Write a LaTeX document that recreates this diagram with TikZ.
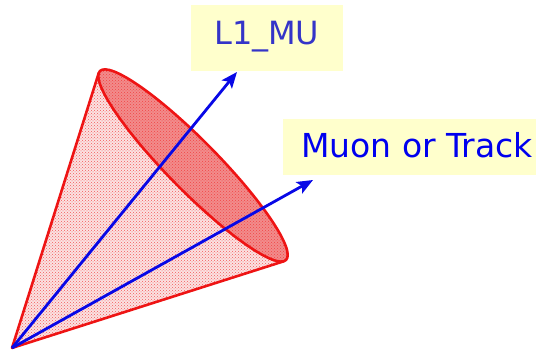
\documentclass[tikz,border=0pt]{standalone}
\usepackage{fontspec}
\setmainfont{DejaVu Sans}
\usetikzlibrary{arrows.meta,patterns}
\definecolor{conered}{HTML}{EE1414}
\definecolor{conefill}{HTML}{FBE2E2}
\definecolor{mouthfill}{HTML}{F28C8C}
\definecolor{boxfill}{HTML}{FFFFCC}
\definecolor{arrowblue}{HTML}{0808E6}
\definecolor{labone}{HTML}{3434C8}
\definecolor{labtwo}{HTML}{0000EE}
\tikzset{
  labelbox/.style={draw=none,fill=boxfill,rectangle,inner sep=0pt},
  labeltext/.style={inner sep=0pt,anchor=base west},
  ray/.style={arrowblue,line width=2.8pt,-{Stealth[length=16pt,width=13pt,inset=3.5pt]}},
  coneline/.style={conered,line width=2.6pt,line join=round}
}
\begin{document}
\begin{tikzpicture}[x=1pt,y=1pt]
\useasboundingbox (0,0) rectangle (536,352);
% label boxes
\node[labelbox,minimum width=152pt,minimum height=66pt] (boxA) at (267,314) {};
\node[labelbox,minimum width=253pt,minimum height=56pt] (boxB) at (409.5,205) {};
% cone
\begin{scope}[shift={(193,186.5)},rotate=-45.46]
  \coordinate (apex) at (3.1,-257);
  \coordinate (t1) at (-132.0,-2.4);
  \coordinate (t2) at (132.0,-2.4);
  \fill[conefill] (apex) -- (t1) -- (t2) -- cycle;
  \fill[pattern=crosshatch dots,pattern color=conered!70] (apex) -- (t1) -- (t2) -- cycle;
  \draw[coneline] (t1) -- (apex) -- (t2);
  \fill[mouthfill] (0,0) ellipse [x radius=132.6,y radius=25];
  \fill[pattern=crosshatch dots,pattern color=conered!80] (0,0) ellipse [x radius=132.6,y radius=25];
  \draw[coneline] (0,0) ellipse [x radius=132.6,y radius=25];
\end{scope}
% rays
\coordinate (tipA) at (237,280);
\coordinate (tipB) at (313,172);
\draw[ray] (apex) -- (tipA);
\draw[ray] (apex) -- (tipB);
% label texts
\node[labeltext,text=labone,font=\fontsize{32}{36}\selectfont] (textA) at (214,307) {L1\_MU};
\node[labeltext,text=labtwo,font=\fontsize{33}{38}\selectfont] (textB) at (301,194) {Muon or Track};
\end{tikzpicture}
\end{document}
